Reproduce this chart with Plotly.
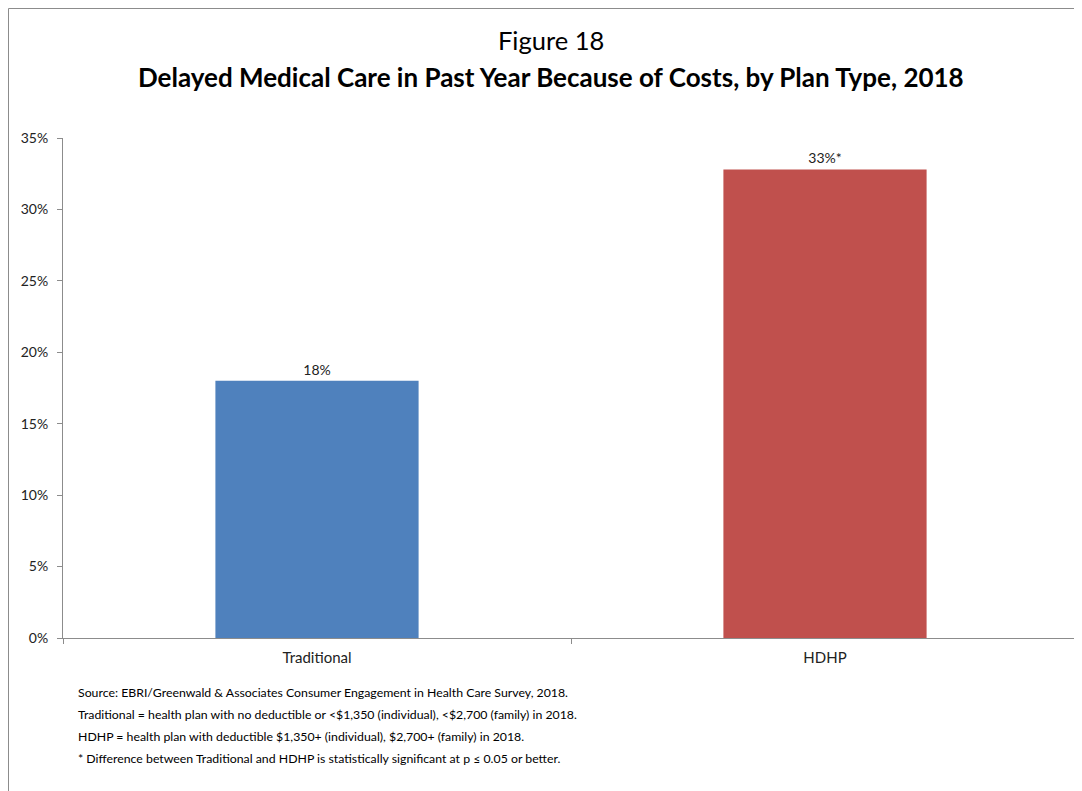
import plotly.graph_objects as go

# datos
plan_types = ["Traditional", "HDHP"]
delayed_pct = [18.0, 32.8]
bar_labels = ["18%", "33%*"]
bar_colors = ["#4F81BD", "#C0504D"]
y_ticks = [0, 5, 10, 15, 20, 25, 30, 35]
y_tick_text = ["0%", "5%", "10%", "15%", "20%", "25%", "30%", "35%"]

title_top = "Figure 18"
title_main = "<b>Delayed Medical Care in Past Year Because of Costs, by Plan Type, 2018</b>"
notes = [
    "Source: EBRI/Greenwald & Associates Consumer Engagement in Health Care Survey, 2018.",
    "Traditional = health plan with no deductible or <$1,350 (individual), <$2,700 (family) in 2018.",
    "HDHP = health plan with deductible $1,350+ (individual), $2,700+ (family) in 2018.",
    "* Difference between Traditional and HDHP is statistically significant at p \u2264 0.05 or better.",
]

FONT = "Lato, 'Open Sans', sans-serif"
AXIS_GRAY = "#8C8C8C"

fig = go.Figure()
fig.add_trace(go.Bar(
    x=plan_types,
    y=delayed_pct,
    text=bar_labels,
    textposition="outside",
    texttemplate="%{text}",
    textfont=dict(size=14, color="#222222", family=FONT),
    marker=dict(color=bar_colors, line=dict(width=0)),
    width=0.4,
    cliponaxis=False,
    showlegend=False,
))

# la pagina tiene 8px de margen en body
fig.update_layout(
    width=1074, height=783,
    margin=dict(l=55, r=3, t=130, b=153),
    paper_bgcolor="white",
    plot_bgcolor="white",
    font=dict(family=FONT, size=14, color="#222222"),
    xaxis=dict(
        showline=True, linecolor=AXIS_GRAY, linewidth=1,
        ticks="outside", tickson="boundaries", ticklen=5, tickcolor=AXIS_GRAY,
        tickfont=dict(size=15, family=FONT), ticklabelstandoff=6,
        showgrid=False, zeroline=False,
    ),
    yaxis=dict(
        range=[0, 35], tickvals=y_ticks, ticktext=y_tick_text,
        showline=True, linecolor=AXIS_GRAY, linewidth=1,
        ticks="outside", ticklen=5, tickcolor=AXIS_GRAY,
        tickfont=dict(size=14, family=FONT), ticklabelstandoff=6,
        showgrid=False, zeroline=False,
    ),
)

# titulos
fig.add_annotation(text=title_top, xref="paper", yref="paper", x=0.480, y=1.196,
                   xanchor="center", yanchor="middle", showarrow=False,
                   font=dict(size=25.5, family=FONT, color="#000000"))
fig.add_annotation(text=title_main, xref="paper", yref="paper", x=0.480, y=1.122,
                   xanchor="center", yanchor="middle", showarrow=False,
                   font=dict(size=26, family=FONT, color="#000000"))

# notas al pie
note_y = [692, 714, 736, 758]
for txt, py in zip(notes, note_y):
    fig.add_annotation(text=txt.replace("<", "&lt;"), xref="paper", yref="paper",
                       x=(76 - 63) / 1016, y=(638 - py) / 500,
                       xanchor="left", yanchor="middle", showarrow=False,
                       font=dict(size=12.3, family=FONT, color="#000000"))

# marco exterior (borde superior e izquierdo visibles)
fig.add_shape(type="rect", xref="paper", yref="paper",
              x0=-55 / 1016 + 0.0005, x1=1.05, y0=-0.4, y1=1 + 130 / 500 - 0.001,
              line=dict(color="#8C8C8C", width=1), layer="below")

fig.write_html("out.html")
